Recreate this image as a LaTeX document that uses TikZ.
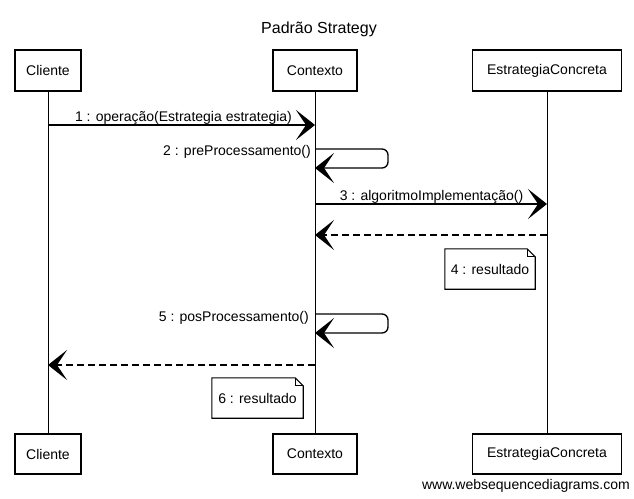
\documentclass[tikz,border=0pt]{standalone}
\usepackage{fontspec}
\setmainfont{Liberation Sans}
\usetikzlibrary{arrows.meta,calc}
\tikzset{
  actor/.style={draw, line width=1.1pt, fill=white, minimum height=41pt, inner sep=0pt, font=\fontsize{14}{16}\selectfont},
  lbl/.style={font=\fontsize{14}{16}\selectfont, inner sep=0pt},
  lifeline/.style={line width=1pt},
  msg/.style={line width=1.3pt, -{Stealth[length=19pt,width=30pt,inset=10pt]}},
  ret/.style={msg, dash pattern=on 7pt off 4pt},
  notebox/.style={line width=1.1pt},
}
\begin{document}
\begin{tikzpicture}[x=1pt,y=-1pt]
\useasboundingbox (0,0) rectangle (634,498);
% title
\node[font=\fontsize{16}{19}\selectfont, anchor=base, inner sep=0pt] (title) at (319,33) {Padrão Strategy};
% participants
\node[actor, minimum width=66pt] (cliT) at (48,70.5) {Cliente};
\node[actor, minimum width=84pt] (ctxT) at (315,70.5) {Contexto};
\node[actor, minimum width=149pt] (estT) at (547,70.5) {EstrategiaConcreta};
\node[actor, minimum width=66pt, minimum height=40pt] (cliB) at (48,454) {Cliente};
\node[actor, minimum width=84pt, minimum height=40pt] (ctxB) at (315,454) {Contexto};
\node[actor, minimum width=149pt, minimum height=40pt] (estB) at (547,454) {EstrategiaConcreta};
% lifelines
\draw[lifeline] (cliT.south) -- (cliB.north);
\draw[lifeline] (ctxT.south) -- (ctxB.north);
\draw[lifeline] (estT.south) -- (estB.north);
% message anchors
\coordinate (c1) at (48,125);
\coordinate (x1) at (315,125);
\coordinate (x2a) at (315,149);
\coordinate (x2b) at (315,168);
\coordinate (x3) at (315,204);
\coordinate (e3) at (547,204);
\coordinate (e4) at (547,235);
\coordinate (x4) at (315,235);
\coordinate (x5a) at (315,314);
\coordinate (x5b) at (315,333);
\coordinate (x6) at (315,365);
\coordinate (c6) at (48,365);
% messages
\draw[msg] (c1) -- (x1);
\node[lbl, anchor=base] (l1) at (183.5,121) {1 : operação(Estrategia estrategia)};
\draw[msg, rounded corners=6pt] (x2a) -- ++(73,0) -- ++(0,19) -- (x2b);
\node[lbl, anchor=base east] (l2) at (311,155) {2 : preProcessamento()};
\draw[msg] (x3) -- (e3);
\node[lbl, anchor=base] (l3) at (431.5,200) {3 : algoritmoImplementação()};
\draw[ret] (e4) -- (x4);
\draw[msg, rounded corners=6pt] (x5a) -- ++(73,0) -- ++(0,19) -- (x5b);
\node[lbl, anchor=base east] (l5) at (309,321) {5 : posProcessamento()};
\draw[ret] (x6) -- (c6);
% notes
\node[lbl, minimum width=90pt, minimum height=40pt] (n4) at (490,269) {4 : resultado};
\draw[notebox] (n4.north west) -- ($(n4.north east)+(-8,0)$) -- ($(n4.north east)+(0,8)$) -- (n4.south east) -- (n4.south west) -- cycle;
\draw[notebox] ($(n4.north east)+(-8,0)$) |- ($(n4.north east)+(0,8)$);
\node[lbl, minimum width=91pt, minimum height=40pt] (n6) at (257.5,398) {6 : resultado};
\draw[notebox] (n6.north west) -- ($(n6.north east)+(-8,0)$) -- ($(n6.north east)+(0,8)$) -- (n6.south east) -- (n6.south west) -- cycle;
\draw[notebox] ($(n6.north east)+(-8,0)$) |- ($(n6.north east)+(0,8)$);
% watermark
\node[lbl, anchor=base east] (wm) at (630,489) {www.websequencediagrams.com};
\end{tikzpicture}
\end{document}
